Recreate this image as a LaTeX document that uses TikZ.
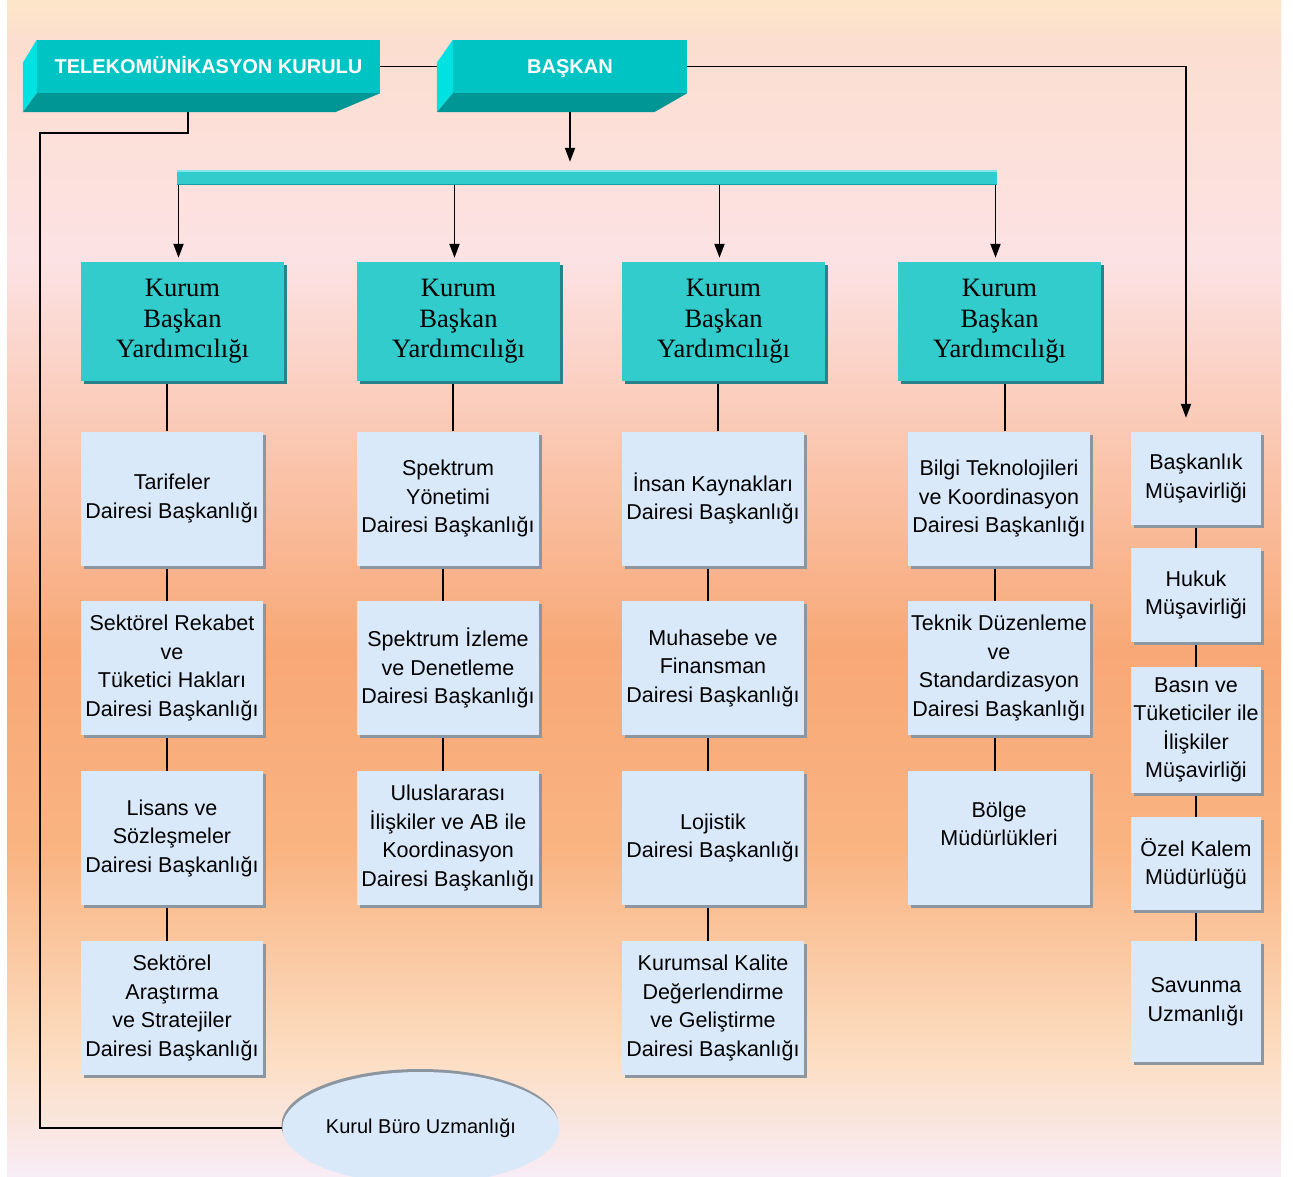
\documentclass[tikz,border=0pt]{standalone}
\usepackage{fontspec}
\setmainfont{Liberation Serif}
\newfontfamily\boxfont{Liberation Sans}
\usetikzlibrary{arrows.meta,calc,shapes.geometric,shadows}
\pgfdeclarelayer{bg}
\pgfdeclarelayer{conn}
\pgfsetlayers{bg,conn,main}
\definecolor{hdrface}{RGB}{0,196,196}
\definecolor{hdrleft}{RGB}{0,226,226}
\definecolor{hdrbot}{RGB}{0,150,150}
\definecolor{tealbox}{RGB}{51,204,204}
\definecolor{tealshadow}{RGB}{40,130,140}
\definecolor{subfill}{RGB}{218,233,250}
\definecolor{subshadow}{RGB}{140,150,160}
\definecolor{bgA}{RGB}{253,230,200}
\definecolor{bgB}{RGB}{252,222,208}
\definecolor{bgC}{RGB}{252,226,228}
\definecolor{bgD}{RGB}{248,168,118}
\definecolor{bgE}{RGB}{249,180,130}
\definecolor{bgF}{RGB}{252,222,195}
\definecolor{bgG}{RGB}{248,236,246}
\tikzset{
  hdr/.style={fill=hdrface, inner sep=0pt, minimum height=53pt, text=white,
    text height=14.5pt, text depth=0pt,
    font=\boxfont\bfseries\fontsize{20}{24}\selectfont},
  kurum/.style={fill=tealbox, inner sep=0pt, minimum width=203pt, minimum height=119pt,
    align=center, font=\fontsize{26.5}{30.5}\selectfont,
    drop shadow={shadow xshift=3pt, shadow yshift=-3pt, fill=tealshadow, opacity=1}},
  sub/.style={fill=subfill, inner sep=0pt, minimum width=182pt, minimum height=134pt,
    align=center, font=\boxfont\fontsize{21.5}{28.5}\selectfont,
    drop shadow={shadow xshift=3pt, shadow yshift=-3pt, fill=subshadow, opacity=1}},
  msub/.style={sub, minimum width=130pt},
  ln/.style={line width=1.9pt, draw=black},
  arr/.style={ln, -{Triangle[length=14pt,width=10pt]}},
}
\begin{document}
\begin{tikzpicture}[x=1pt,y=-1pt]
\useasboundingbox (0,0) rectangle (1293,1176);
\begin{pgfonlayer}{bg}
\fill[white] (0,0) rectangle (1293,1176);
\shade[top color=bgA,bottom color=bgB] (7,0) rectangle (1281,41);
\shade[top color=bgB,bottom color=bgC] (7,40) rectangle (1281,261);
\shade[top color=bgC,bottom color=bgD] (7,260) rectangle (1281,651);
\shade[top color=bgD,bottom color=bgE] (7,650) rectangle (1281,851);
\shade[top color=bgE,bottom color=bgF] (7,850) rectangle (1281,1061);
\shade[top color=bgF,bottom color=bgG] (7,1060) rectangle (1281,1176);
\end{pgfonlayer}

% header boxes
\node[hdr, minimum width=343pt] (tk) at (208.5,66.5) {TELEKOMÜNİKASYON KURULU};
\node[hdr, minimum width=234pt] (bk) at (570,66.5) {BAŞKAN};
\fill[hdrleft] (tk.north west) -- ++(-14,23) -- ++(0,49) -- (tk.south west) -- cycle;
\fill[hdrbot] (tk.south west) -- ++(-14,19) -- ($(tk.south east)+(-45,19)$) -- (tk.south east) -- cycle;
\fill[hdrleft] (bk.north west) -- ++(-16,23) -- ++(0,49) -- (bk.south west) -- cycle;
\fill[hdrbot] (bk.south west) -- ++(-16,19) -- ($(bk.south east)+(-33,19)$) -- (bk.south east) -- cycle;

% bar
\node[fill=tealbox, inner sep=0pt, minimum width=820pt, minimum height=15pt] (bar) at (587,177.5) {};
\draw[line width=2pt, draw={rgb,255:red,130;green,228;blue,228}] ([yshift=-1pt]bar.north west) -- ([yshift=-1pt]bar.north east);
\draw[line width=1.5pt, draw={rgb,255:red,20;green,160;blue,165}] ([yshift=0.75pt]bar.south west) -- ([yshift=0.75pt]bar.south east);

% kurum boxes
\node[kurum] (k1) at (182.5,321.5) {Kurum\\Başkan\\Yardımcılığı};
\node[kurum] (k2) at (458.5,321.5) {Kurum\\Başkan\\Yardımcılığı};
\node[kurum] (k3) at (723.5,321.5) {Kurum\\Başkan\\Yardımcılığı};
\node[kurum] (k4) at (999.5,321.5) {Kurum\\Başkan\\Yardımcılığı};

% column 1
\node[sub] (s11) at (172,498.5) {Tarifeler\\Dairesi Başkanlığı};
\node[sub] (s12) at (172,668) {Sektörel Rekabet\\ve\\Tüketici Hakları\\Dairesi Başkanlığı};
\node[sub] (s13) at (172,838) {Lisans ve\\Sözleşmeler\\Dairesi Başkanlığı};
\node[sub] (s14) at (172,1008) {Sektörel\\Araştırma\\ve Stratejiler\\Dairesi Başkanlığı};
% column 2
\node[sub] (s21) at (448,498.5) {Spektrum\\Yönetimi\\Dairesi Başkanlığı};
\node[sub] (s22) at (448,668) {Spektrum İzleme\\ve Denetleme\\Dairesi Başkanlığı};
\node[sub] (s23) at (448,838) {Uluslararası\\İlişkiler ve AB ile\\Koordinasyon\\Dairesi Başkanlığı};
% column 3
\node[sub] (s31) at (713,498.5) {İnsan Kaynakları\\Dairesi Başkanlığı};
\node[sub] (s32) at (713,668) {Muhasebe ve\\Finansman\\Dairesi Başkanlığı};
\node[sub] (s33) at (713,838) {Lojistik\\Dairesi Başkanlığı};
\node[sub] (s34) at (713,1008) {Kurumsal Kalite\\Değerlendirme\\ve Geliştirme\\Dairesi Başkanlığı};
% column 4
\node[sub] (s41) at (999,498.5) {Bilgi Teknolojileri\\ve Koordinasyon\\Dairesi Başkanlığı};
\node[sub] (s42) at (999,668) {Teknik Düzenleme\\ve\\Standardizasyon\\Dairesi Başkanlığı};
\node[sub] (s43) at (999,838) {Bölge\\Müdürlükleri\\~};
% column 5
\node[msub, minimum height=93pt] (m1) at (1196,478.5) {Başkanlık\\Müşavirliği};
\node[msub, minimum height=94pt] (m2) at (1196,595) {Hukuk\\Müşavirliği};
\node[msub, minimum height=126pt] (m3) at (1196,730) {Basın ve\\Tüketiciler ile\\İlişkiler\\Müşavirliği};
\node[msub, minimum height=93pt] (m4) at (1196,863.5) {Özel Kalem\\Müdürlüğü};
\node[msub, minimum height=121pt] (m5) at (1196,1001.5) {Savunma\\Uzmanlığı};

% ellipse
\node[ellipse, fill=subfill, inner sep=0pt, minimum width=277pt, minimum height=112pt,
  font=\boxfont\fontsize{20}{24}\selectfont,
  drop shadow={shadow xshift=-1pt, shadow yshift=3pt, fill=subshadow, opacity=1}]
  (kb) at (421,1128) {Kurul Büro Uzmanlığı};

\coordinate (lcorner) at (40,133);

\begin{pgfonlayer}{conn}
\draw[ln] (tk.east) -- (bk.west);
\draw[arr] (bk.east) -| ($(m1.north)+(-10,-14)$);
\draw[arr, shorten >=8pt] (bk.south) -- (bk.south |- bar.north);
\foreach \k in {k1,k2,k3,k4}{
  \draw[arr, shorten >=4pt] ([xshift=-4pt]bar.south -| \k.north) -- ([xshift=-4pt]\k.north);
}
\draw[ln] ($(tk.south)+(-20.5,0)$) |- (lcorner) |- (kb.west);
% column 1
\draw[ln] ([xshift=-5pt]s11.north) -- ([xshift=-5pt]s11.north |- k1.south);
\draw[ln] ([xshift=-5pt]s11.south) -- ([xshift=-5pt]s12.north);
\draw[ln] ([xshift=-5pt]s12.south) -- ([xshift=-5pt]s13.north);
\draw[ln] ([xshift=-5pt]s13.south) -- ([xshift=-5pt]s14.north);
% column 2
\draw[ln] ([xshift=5pt]s21.north) -- ([xshift=5pt]s21.north |- k2.south);
\draw[ln] ([xshift=-5pt]s21.south) -- ([xshift=-5pt]s22.north);
\draw[ln] ([xshift=-5pt]s22.south) -- ([xshift=-5pt]s23.north);
% column 3
\draw[ln] ([xshift=5pt]s31.north) -- ([xshift=5pt]s31.north |- k3.south);
\draw[ln] ([xshift=-5pt]s31.south) -- ([xshift=-5pt]s32.north);
\draw[ln] ([xshift=-5pt]s32.south) -- ([xshift=-5pt]s33.north);
\draw[ln] ([xshift=-5pt]s33.south) -- ([xshift=-5pt]s34.north);
% column 4
\draw[ln] ([xshift=6pt]s41.north) -- ([xshift=6pt]s41.north |- k4.south);
\draw[ln] ([xshift=-4pt]s41.south) -- ([xshift=-4pt]s42.north);
\draw[ln] ([xshift=-4pt]s42.south) -- ([xshift=-4pt]s43.north);
% column 5
\draw[ln] (m1.south) -- (m2.north);
\draw[ln] (m2.south) -- (m3.north);
\draw[ln] (m3.south) -- (m4.north);
\draw[ln] (m4.south) -- (m5.north);
\end{pgfonlayer}
\end{tikzpicture}
\end{document}
